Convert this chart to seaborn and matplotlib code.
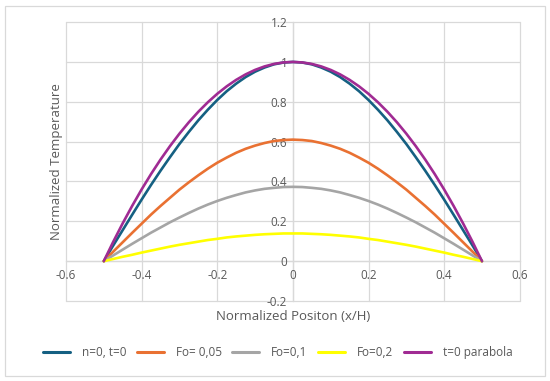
import matplotlib
matplotlib.use("Agg")
import matplotlib.pyplot as plt
import seaborn as sns
import pandas as pd
from matplotlib.patches import Rectangle

x_pos = [-0.5, -0.475, -0.45, -0.425, -0.4, -0.375, -0.35, -0.325, -0.3, -0.275,
         -0.25, -0.225, -0.2, -0.175, -0.15, -0.125, -0.1, -0.075, -0.05, -0.025,
         0.0,
         0.025, 0.05, 0.075, 0.1, 0.125, 0.15, 0.175, 0.2, 0.225, 0.25,
         0.275, 0.3, 0.325, 0.35, 0.375, 0.4, 0.425, 0.45, 0.475, 0.5]
n0_t0 = [0, 0.079, 0.156, 0.233, 0.309, 0.383, 0.454, 0.522, 0.588, 0.649,
         0.707, 0.760, 0.809, 0.853, 0.891, 0.924, 0.951, 0.972, 0.988, 0.997,
         1.0,
         0.997, 0.988, 0.972, 0.951, 0.924, 0.891, 0.853, 0.809, 0.760, 0.707,
         0.649, 0.588, 0.522, 0.454, 0.383, 0.309, 0.233, 0.156, 0.079, 0]
fo_005 = [0, 0.048, 0.095, 0.142, 0.188, 0.234, 0.277, 0.318, 0.359, 0.396,
          0.431, 0.464, 0.494, 0.520, 0.544, 0.564, 0.580, 0.593, 0.603, 0.608,
          0.61,
          0.608, 0.603, 0.593, 0.580, 0.564, 0.544, 0.520, 0.494, 0.464, 0.431,
          0.396, 0.359, 0.318, 0.277, 0.234, 0.188, 0.142, 0.095, 0.048, 0]
fo_01 = [0, 0.029, 0.058, 0.087, 0.115, 0.143, 0.169, 0.195, 0.219, 0.242,
         0.264, 0.284, 0.302, 0.318, 0.332, 0.345, 0.355, 0.363, 0.368, 0.372,
         0.373,
         0.372, 0.368, 0.363, 0.355, 0.345, 0.332, 0.318, 0.302, 0.284, 0.264,
         0.242, 0.219, 0.195, 0.169, 0.143, 0.115, 0.087, 0.058, 0.029, 0]
fo_02 = [0, 0.011, 0.022, 0.032, 0.043, 0.053, 0.063, 0.073, 0.082, 0.090,
         0.098, 0.106, 0.112, 0.119, 0.124, 0.128, 0.132, 0.135, 0.137, 0.139,
         0.139,
         0.139, 0.137, 0.135, 0.132, 0.128, 0.124, 0.119, 0.112, 0.106, 0.098,
         0.090, 0.082, 0.073, 0.063, 0.053, 0.043, 0.032, 0.022, 0.011, 0]
parabola = [0, 0.0975, 0.19, 0.2775, 0.36, 0.4375, 0.51, 0.5775, 0.64, 0.6975,
            0.75, 0.7975, 0.84, 0.8775, 0.91, 0.9375, 0.96, 0.9775, 0.99, 0.9975,
            1.0,
            0.9975, 0.99, 0.9775, 0.96, 0.9375, 0.91, 0.8775, 0.84, 0.7975, 0.75,
            0.6975, 0.64, 0.5775, 0.51, 0.4375, 0.36, 0.2775, 0.19, 0.0975, 0]

series_names = ["n=0, t=0", "Fo= 0,05", "Fo=0,1", "Fo=0,2", "t=0 parabola"]
series_vals = [n0_t0, fo_005, fo_01, fo_02, parabola]
colors = ["#156082", "#E97132", "#A5A5A5", "#FFFF00", "#A02B93"]

x_ticks = [-0.6, -0.4, -0.2, 0, 0.2, 0.4, 0.6]
x_tick_labels = ["-0.6", "-0.4", "-0.2", "0", "0.2", "0.4", "0.6"]
y_ticks = [-0.2, 0, 0.2, 0.4, 0.6, 0.8, 1, 1.2]
y_tick_labels = ["-0.2", "0", "0.2", "0.4", "0.6", "0.8", "1", "1.2"]

rows = []
for name, vals in zip(series_names, series_vals):
    for xv, yv in zip(x_pos, vals):
        rows.append({"x": xv, "y": yv, "series": name})
df = pd.DataFrame(rows)

sns.set_theme(style="white")
plt.rcParams["font.family"] = ["Open Sans", "DejaVu Sans"]

fig = plt.figure(figsize=(5.5, 3.81), dpi=100)
ax = fig.add_axes([0.12, 0.21, 0.825, 0.732])

sns.lineplot(data=df, x="x", y="y", hue="series", hue_order=series_names,
             palette=colors, linewidth=1.9, ax=ax, sort=False, legend=True,
             estimator=None)

ax.set_xlim(-0.6, 0.6)
ax.set_ylim(-0.2, 1.2)
ax.set_xticks(x_ticks)
ax.set_xticklabels(x_tick_labels)
ax.set_yticks(y_ticks)
ax.set_yticklabels(y_tick_labels)

grid_c = "#D9D9D9"
for xv in x_ticks:
    ax.axvline(xv, color=grid_c, lw=0.9, zorder=0, clip_on=False)
for yv in y_ticks:
    ax.axhline(yv, color=grid_c, lw=0.9, zorder=0, clip_on=False)

for s in ["top", "right"]:
    ax.spines[s].set_visible(False)
ax.spines["left"].set_position(("data", 0))
ax.spines["bottom"].set_position(("data", 0))
for s in ["left", "bottom"]:
    ax.spines[s].set_color(grid_c)
    ax.spines[s].set_linewidth(0.9)
    ax.spines[s].set_zorder(0)

ax.tick_params(axis="both", length=0, labelsize=8.5, labelcolor="#595959")
ax.tick_params(axis="x", pad=6)
ax.tick_params(axis="y", pad=4)

ax.set_xlabel("")
ax.set_ylabel("")
fig.text(0.533, 0.17, "Normalized Positon (x/H)", ha="center", va="center",
         fontsize=9.5, color="#595959")
fig.text(0.103, 0.575, "Normalized Temperature", ha="center", va="center",
         rotation=90, fontsize=9.5, color="#595959")

handles, labels = ax.get_legend_handles_labels()
ax.get_legend().remove()
leg = fig.legend(handles, labels, loc="center", bbox_to_anchor=(0.505, 0.075),
                 ncol=5, frameon=False, fontsize=8.5, handlelength=2.3,
                 columnspacing=0.9, handletextpad=1.0)
for t in leg.get_texts():
    t.set_color("#595959")
for h in leg.get_lines():
    h.set_linewidth(2.2)

fig.patches.append(Rectangle((0.009, 0.013), 0.982, 0.972, transform=fig.transFigure,
                             fill=False, edgecolor="#D9D9D9", lw=0.9))

fig.savefig("out.png", dpi=100)
